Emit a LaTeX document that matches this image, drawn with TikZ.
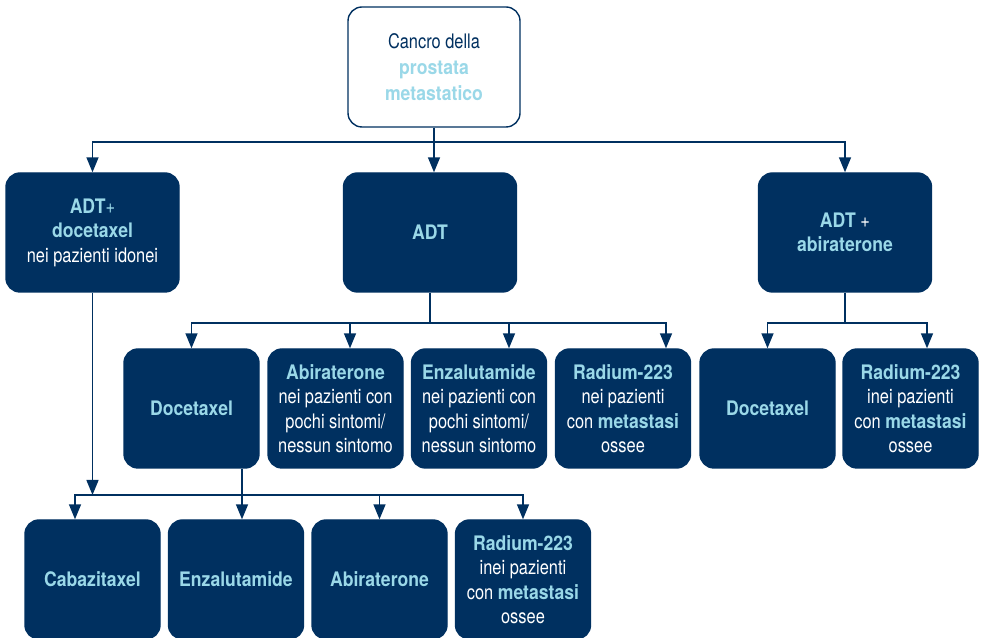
\documentclass[tikz,border=0pt]{standalone}
\usepackage{fontspec}
\setmainfont{TeX Gyre Heros}[UprightFeatures={FakeStretch=0.82},BoldFeatures={FakeStretch=0.88}]
\usepackage{xcolor}
\usepackage{tikz}
\usetikzlibrary{arrows.meta}

\definecolor{navy}{HTML}{003060}
\definecolor{ltblue}{HTML}{9AD8E8}
\newcommand{\hlb}[1]{\textcolor{ltblue}{\textbf{#1}}}

\begin{document}
\begin{tikzpicture}[x = 1pt, y = 1pt,
        box/.style = {draw = navy, fill = navy, text = white, rounded corners = 14pt,
            line width = 1.4pt, align = center, inner sep = 0pt,
            font = \fontsize{20}{24.5}\selectfont},
        bigbox/.style = {box, minimum width = 173pt, minimum height = 119pt},
        smallbox/.style = {box, minimum width = 135pt, minimum height = 119pt},
        conn/.style = {draw = navy, line width = 1.5pt},
        arr/.style = {conn, -{Triangle[width = 12pt, length = 15pt]}}]
        \useasboundingbox (0, 0) rectangle (982, 637);

        \node[box, fill = white, text = navy, minimum width = 172pt, minimum height = 120pt,
            font = \fontsize{20}{26}\selectfont] (canc) at (434, 570)
            {Cancro della\\\hlb{prostata}\\\hlb{metastatico}};

        \node[bigbox] (adtdoc) at (92.5, 404.5) {\hlb{ADT}\textcolor{ltblue}{+}\\\hlb{docetaxel}\\nei pazienti idonei};
        \node[bigbox] (adt) at (430, 404.5) {\hlb{ADT}};
        \node[bigbox] (adtabi) at (845, 404.5) {\hlb{ADT} +\\\hlb{abiraterone}};

        \node[smallbox] (doc) at (191.5, 228.5) {\hlb{Docetaxel}};
        \node[smallbox] (abi) at (335.5, 228.5) {\hlb{Abiraterone}\\nei pazienti con\\pochi sintomi/\\nessun sintomo};
        \node[smallbox] (enz) at (479, 228.5) {\hlb{Enzalutamide}\\nei pazienti con\\pochi sintomi/\\nessun sintomo};
        \node[smallbox] (rad) at (623, 228.5) {\hlb{Radium-223}\\nei pazienti\\con \hlb{metastasi}\\ossee};
        \node[smallbox] (doc2) at (767.5, 228.5) {\hlb{Docetaxel}};
        \node[smallbox] (rad2) at (910.5, 228.5) {\hlb{Radium-223}\\inei pazienti\\con \hlb{metastasi}\\ossee};

        \node[smallbox] (cab) at (92.5, 57.5) {\hlb{Cabazitaxel}};
        \node[smallbox] (enz2) at (236, 57.5) {\hlb{Enzalutamide}};
        \node[smallbox] (abi2) at (379.5, 57.5) {\hlb{Abiraterone}};
        \node[smallbox] (rad3) at (523, 57.5) {\hlb{Radium-223}\\inei pazienti\\con \hlb{metastasi}\\ossee};

        % first split
        \coordinate (b1) at (434, 495);
        \draw[conn] (canc.south) -- (b1);
        \draw[arr] (b1) -| (adtdoc.north);
        \draw[arr] (b1) -| (adtabi.north);
        \draw[arr] (b1) -- (b1 |- adt.north);

        % under ADT
        \coordinate (b2) at (430, 314);
        \draw[conn] (adt.south) -- (b2);
        \draw[arr] (b2) -| (doc.north);
        \draw[arr] (b2) -| ([xshift = 14.5pt]abi.north);
        \draw[arr] (b2) -| ([xshift = 30pt]enz.north);
        \draw[arr] (b2) -| ([xshift = 43pt]rad.north);

        % under ADT + abiraterone
        \coordinate (b3) at (845, 314);
        \draw[conn] (adtabi.south) -- (b3);
        \draw[arr] (b3) -| (doc2.north);
        \draw[arr] (b3) -| ([xshift = 16.5pt]rad2.north);

        % last row
        \coordinate (b4) at (242, 142);
        \draw[arr] (adtdoc.south) -- (adtdoc.south |- b4);
        \draw[conn] ([xshift = 50.5pt]doc.south) -- (b4);
        \draw[arr] (b4) -| ([xshift = -17.5pt]cab.north);
        \draw[arr] (b4) -- (b4 |- enz2.north);
        \draw[arr] (b4) -| (abi2.north);
        \draw[arr] (b4) -| (rad3.north);
    \end{tikzpicture}
\end{document}
